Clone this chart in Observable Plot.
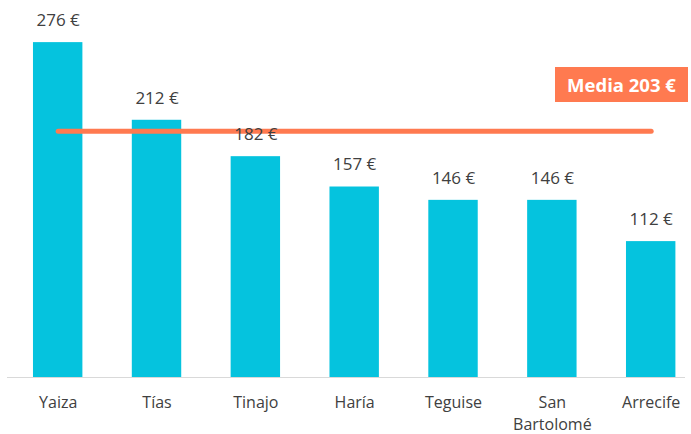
<!DOCTYPE html>
<html>
<head>
<meta charset="utf-8">
<script src="https://cdn.jsdelivr.net/npm/d3@7"></script>
<script src="https://cdn.jsdelivr.net/npm/@observablehq/plot@0.6"></script>
<style>
  body { margin: 0; background: #fff; }
  #wrap { position: relative; width: 691px; height: 434px; font-family: "Open Sans", sans-serif; }
  #media { position: absolute; left: 555px; top: 67px; width: 133px; height: 35px; background: #FF7A50;
           color: #fff; font-weight: bold; font-size: 18.5px; line-height: 35px; text-align: center; }
</style>
</head>
<body>
<div id="wrap"><div id="media">Media 203 €</div></div>
<script>
const municipios = ["Yaiza", "Tías", "Tinajo", "Haría", "Teguise", "San Bartolomé", "Arrecife"];
const etiquetas = ["Yaiza", "Tías", "Tinajo", "Haría", "Teguise", "San\nBartolomé", "Arrecife"];
const valores = [276, 212, 182, 157, 146, 146, 112];
const media = 203;

const data = municipios.map((m, i) => ({m, v: valores[i], label: etiquetas[i]}));

const chart = Plot.plot({
  width: 691,
  height: 434,
  marginTop: 13,
  marginBottom: 57,
  marginLeft: 7,
  marginRight: 6,
  style: {fontFamily: "Open Sans, sans-serif", fontSize: "16px", color: "#404040", background: "#fff"},
  x: {domain: municipios, padding: 0.5, paddingOuter: 0.18, align: 0.73, round: false, axis: null},
  y: {domain: [0, 300], axis: null},
  marks: [
    Plot.barY(data, {x: "m", y: "v", fill: "#05C3DE"}),
    Plot.ruleY([0], {stroke: "#D9D9D9", strokeWidth: 1}),
    Plot.line([{m: municipios[0], v: media}, {m: municipios[municipios.length - 1], v: media}],
      {x: "m", y: "v", stroke: "#FF7A50", strokeWidth: 5, strokeLinecap: "round"}),
    Plot.text(data, {x: "m", y: "v", text: d => `${d.v} €`, dy: -22, fill: "#404040", fontSize: 17}),
    Plot.text(data, {x: "m", y: 0, text: "label", dy: 15, lineAnchor: "top", lineHeight: 1.36, fill: "#404040", fontSize: 16})
  ]
});
document.getElementById("wrap").prepend(chart);
chart.style.position = "absolute";
chart.style.left = "0";
chart.style.top = "0";
</script>
</body>
</html>
